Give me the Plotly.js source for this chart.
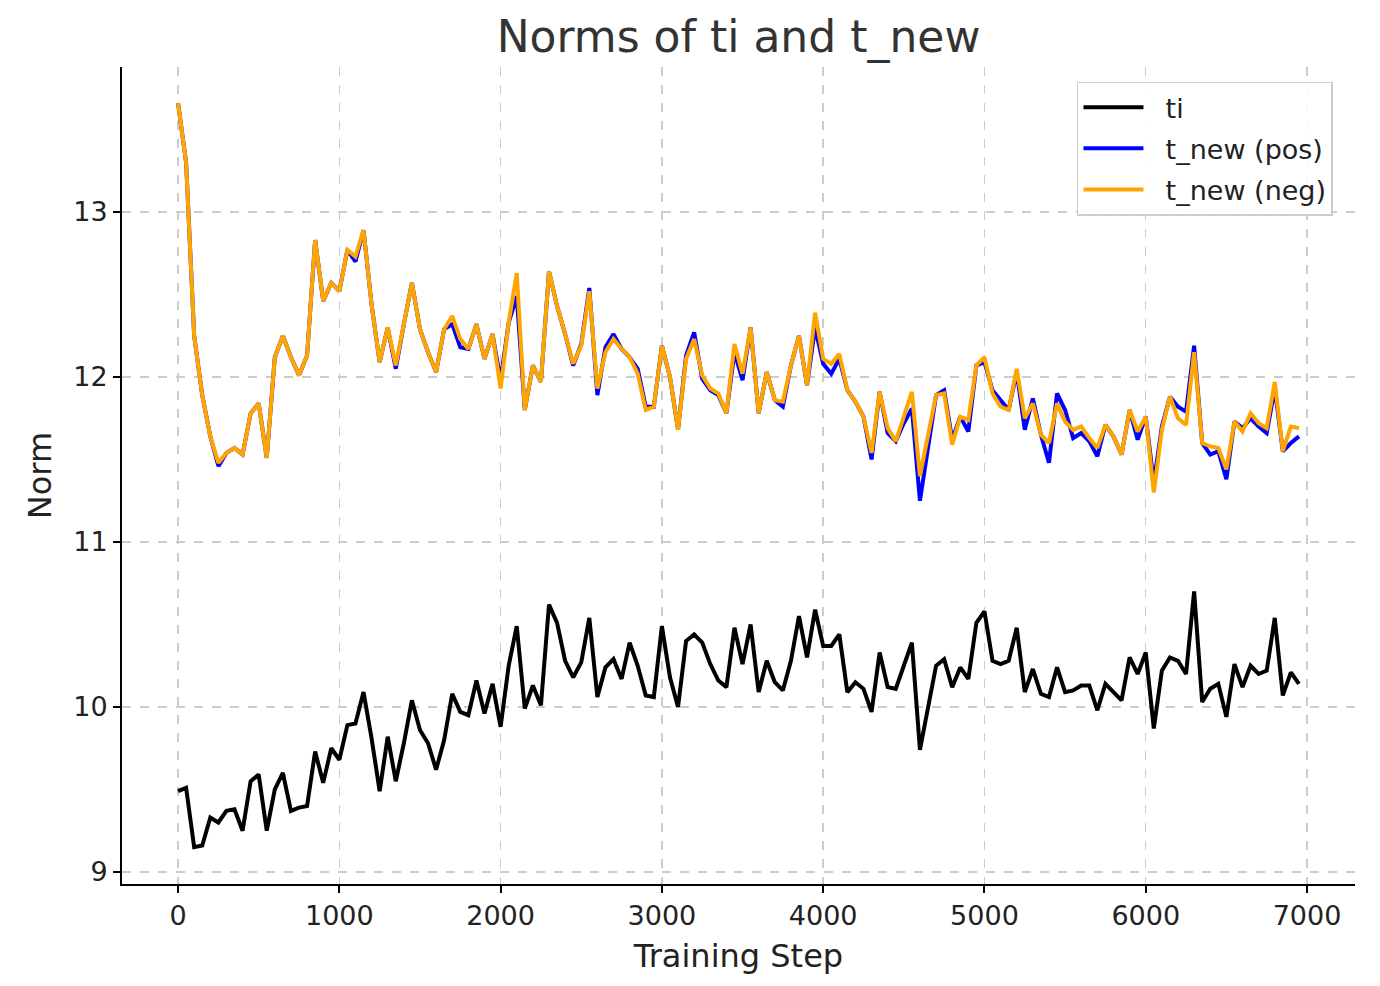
<!DOCTYPE html>
<html>
<head>
<meta charset="utf-8">
<script src="https://cdn.plot.ly/plotly-3.0.1.min.js"></script>
<style>html,body{margin:0;padding:0;background:#fff;}#chart{width:1380px;height:986px;}</style>
</head>
<body>
<div id="chart"></div>
<script>
const steps = [0,50,100,150,200,250,300,350,400,450,500,550,600,650,700,750,800,850,900,950,
1000,1050,1100,1150,1200,1250,1300,1350,1400,1450,1500,1550,1600,1650,1700,1750,1800,1850,1900,1950,
2000,2050,2100,2150,2200,2250,2300,2350,2400,2450,2500,2550,2600,2650,2700,2750,2800,2850,2900,2950,
3000,3050,3100,3150,3200,3250,3300,3350,3400,3450,3500,3550,3600,3650,3700,3750,3800,3850,3900,3950,
4000,4050,4100,4150,4200,4250,4300,4350,4400,4450,4500,4550,4600,4650,4700,4750,4800,4850,4900,4950,
5000,5050,5100,5150,5200,5250,5300,5350,5400,5450,5500,5550,5600,5650,5700,5750,5800,5850,5900,5950,
6000,6050,6100,6150,6200,6250,6300,6350,6400,6450,6500,6550,6600,6650,6700,6750,6800,6850,6900,6950];

const ti = [9.49,9.51,9.15,9.16,9.33,9.30,9.37,9.38,9.25,9.55,9.59,9.25,9.50,9.60,9.37,9.39,9.40,9.73,9.54,9.75,
9.68,9.89,9.90,10.09,9.81,9.49,9.82,9.55,9.78,10.04,9.86,9.78,9.62,9.80,10.08,9.97,9.95,10.16,9.96,10.14,
9.88,10.25,10.49,9.99,10.13,10.01,10.62,10.51,10.28,10.18,10.27,10.54,10.06,10.24,10.29,10.17,10.39,10.25,10.07,10.06,
10.49,10.18,10.00,10.40,10.44,10.39,10.26,10.16,10.12,10.48,10.26,10.50,10.09,10.28,10.15,10.10,10.28,10.55,10.30,10.59,
10.37,10.37,10.44,10.09,10.15,10.11,9.97,10.33,10.12,10.11,10.25,10.39,9.74,9.98,10.25,10.29,10.12,10.24,10.17,10.51,
10.58,10.28,10.26,10.28,10.48,10.09,10.23,10.08,10.06,10.24,10.09,10.10,10.13,10.13,9.98,10.14,10.09,10.04,10.30,10.20,
10.33,9.87,10.22,10.30,10.28,10.20,10.70,10.03,10.11,10.14,9.94,10.26,10.12,10.25,10.20,10.22,10.54,10.07,10.21,10.14];

const tNewPos = [13.66,13.30,12.25,11.89,11.64,11.46,11.54,11.57,11.53,11.78,11.84,11.51,12.12,12.25,12.12,12.01,12.13,12.83,12.46,12.57,
12.52,12.77,12.70,12.89,12.44,12.09,12.30,12.05,12.32,12.57,12.29,12.15,12.03,12.29,12.32,12.18,12.17,12.32,12.11,12.26,
11.98,12.33,12.49,11.80,12.07,11.97,12.64,12.43,12.26,12.07,12.20,12.54,11.89,12.18,12.26,12.17,12.12,12.05,11.82,11.82,
12.19,12.00,11.68,12.13,12.27,11.99,11.92,11.89,11.78,12.15,11.98,12.30,11.78,12.03,11.86,11.82,12.07,12.25,11.95,12.30,
12.08,12.02,12.11,11.92,11.85,11.76,11.50,11.91,11.66,11.61,11.72,11.81,11.25,11.56,11.89,11.92,11.62,11.76,11.67,12.07,
12.09,11.92,11.86,11.80,12.03,11.68,11.87,11.65,11.48,11.90,11.80,11.63,11.66,11.61,11.52,11.71,11.64,11.53,11.80,11.62,
11.76,11.36,11.70,11.88,11.82,11.79,12.19,11.60,11.53,11.55,11.38,11.73,11.69,11.75,11.70,11.66,11.93,11.55,11.60,11.64];

const tNewNeg = [13.66,13.30,12.25,11.89,11.64,11.48,11.54,11.57,11.53,11.78,11.84,11.51,12.12,12.25,12.12,12.01,12.13,12.83,12.46,12.57,
12.52,12.77,12.73,12.89,12.44,12.09,12.30,12.07,12.32,12.57,12.29,12.15,12.03,12.29,12.37,12.23,12.17,12.32,12.11,12.26,
11.93,12.33,12.63,11.80,12.07,11.97,12.64,12.43,12.26,12.08,12.19,12.52,11.93,12.15,12.23,12.17,12.12,12.02,11.80,11.82,
12.19,12.00,11.68,12.11,12.23,12.01,11.93,11.90,11.78,12.20,12.02,12.30,11.78,12.03,11.86,11.85,12.07,12.25,11.95,12.39,
12.11,12.08,12.14,11.92,11.85,11.76,11.54,11.91,11.69,11.61,11.76,11.91,11.40,11.65,11.89,11.90,11.59,11.76,11.74,12.07,
12.12,11.90,11.82,11.80,12.05,11.75,11.84,11.65,11.60,11.84,11.73,11.68,11.70,11.63,11.57,11.71,11.64,11.53,11.80,11.67,
11.76,11.30,11.68,11.88,11.75,11.71,12.15,11.60,11.58,11.57,11.44,11.73,11.67,11.78,11.72,11.69,11.97,11.55,11.70,11.69];

const seriesNames = ["ti", "t_new (pos)", "t_new (neg)"];
const xTicks = [0,1000,2000,3000,4000,5000,6000,7000];
const yTicks = [9,10,11,12,13];

const FONT = "DejaVu Sans, Liberation Sans, sans-serif";
const GAP = "\u00a0\u00a0";

const traces = [
  {x: steps, y: ti, name: GAP + seriesNames[0], type: "scatter", mode: "lines",
   line: {color: "#000000", width: 4}, legendgroup: "a"},
  {x: steps, y: tNewPos, name: GAP + seriesNames[1], type: "scatter", mode: "lines",
   line: {color: "#0000ff", width: 4}, legendgroup: "b"},
  {x: steps, y: tNewNeg, name: GAP + seriesNames[2], type: "scatter", mode: "lines",
   line: {color: "#ffa500", width: 4}, legendgroup: "c"}
];

const layout = {
  width: 1380, height: 986,
  paper_bgcolor: "#ffffff", plot_bgcolor: "#ffffff",
  margin: {l: 122, r: 25, t: 67, b: 102},
  font: {family: FONT, color: "#222222"},
  title: {text: "Norms of ti and t_new", font: {family: FONT, size: 44, color: "#333333"},
          x: 0.5, xref: "paper", xanchor: "center", y: 1 - 37/986, yref: "container", yanchor: "middle"},
  showlegend: true,
  legend: {x: 0.7745, y: 0.982, xanchor: "left", yanchor: "top",
           bgcolor: "rgba(255,255,255,0.9)", bordercolor: "#cccccc", borderwidth: 1.5,
           font: {family: FONT, size: 27, color: "#222222"},
           traceorder: "grouped", tracegroupgap: 3, itemwidth: 60},
  xaxis: {
    range: [-347.5, 7297.5], tickvals: xTicks, ticktext: xTicks.map(String),
    showgrid: true, gridcolor: "#cccccc", griddash: "dash", gridwidth: 1.5,
    zeroline: false, showline: true, linecolor: "#000000", linewidth: 2, mirror: false,
    ticks: "outside", ticklen: 7, tickwidth: 2, tickcolor: "#000000",
    tickfont: {family: FONT, size: 27, color: "#222222"},
    title: {text: "Training Step", font: {family: FONT, size: 32, color: "#222222"}, standoff: 14},
    automargin: false
  },
  yaxis: {
    range: [8.927, 13.879], tickvals: yTicks, ticktext: yTicks.map(String),
    showgrid: true, gridcolor: "#cccccc", griddash: "dash", gridwidth: 1.5,
    zeroline: false, showline: true, linecolor: "#000000", linewidth: 2, mirror: false,
    ticks: "outside", ticklen: 7, tickwidth: 2, tickcolor: "#000000",
    tickfont: {family: FONT, size: 27, color: "#222222"},
    title: {text: "Norm", font: {family: FONT, size: 32, color: "#222222"}, standoff: 12},
    automargin: false
  }
};

Plotly.newPlot("chart", traces, layout, {displayModeBar: false, staticPlot: true});
</script>
</body>
</html>
